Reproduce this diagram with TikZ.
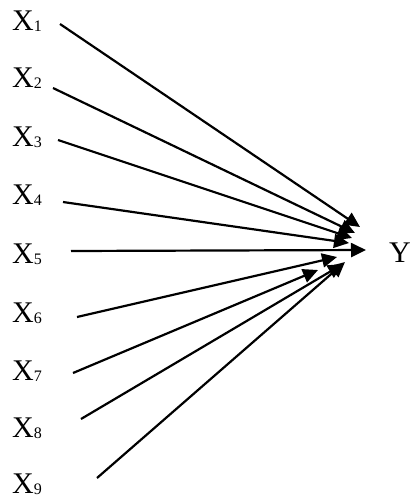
\documentclass[tikz,border=0pt]{standalone}
\usepackage{fontspec}
\setmainfont{Liberation Serif}
\usepackage{tikz}
\usetikzlibrary{arrows.meta}

\newcommand{\varsub}[1]{\raisebox{-0.1ex}{\fontsize{16}{16}\selectfont #1}}

\begin{document}
\begin{tikzpicture}[x=1pt,y=-1pt,
  varlab/.style={inner sep=0pt, anchor=base west, font=\fontsize{30}{32}\selectfont},
  link/.style={line width=2.2pt, -{Triangle[length=15pt,width=14pt]}}]
\useasboundingbox (0,0) rectangle (411,501);
% labels
\foreach \i/\b in {1/30,2/87,3/146,4/204,5/263,6/322,7/380,8/437,9/493}
  \node[varlab] (x\i) at (12,\b) {X\varsub{\i}};
\node[varlab] (y) at (389,262) {Y};
% arrows into Y
\foreach \i/\sx/\sy/\tx/\ty in {1/60/24/360/227, 2/53/88/355/233, 3/58/140/352/238,
    4/63/202/349/243, 5/71/251/366/250, 6/77/317/337/257, 7/73/373/318/270,
    8/81/419/343/264, 9/97/478/345/262}{
  \coordinate (s\i) at (\sx,\sy);
  \coordinate (t\i) at (\tx,\ty);
  \draw[link] (s\i) -- (t\i);
}
\end{tikzpicture}
\end{document}
